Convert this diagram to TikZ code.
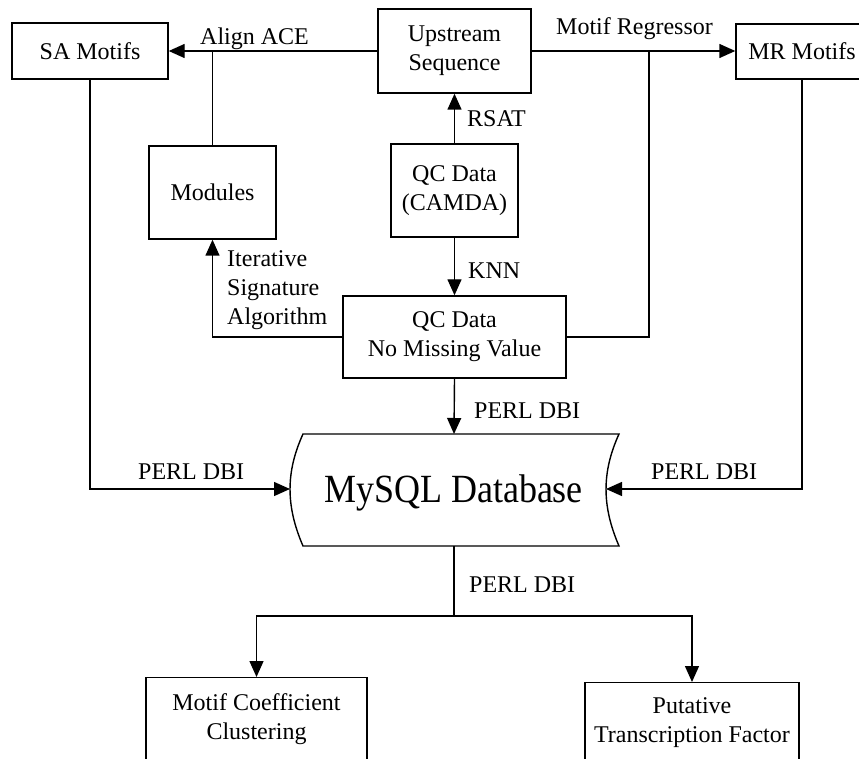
\documentclass[tikz,border=0pt]{standalone}
\usepackage{fontspec}
\setmainfont{Liberation Serif}
\usetikzlibrary{arrows.meta}
\begin{document}
\begin{tikzpicture}[x=1pt,y=-1pt,
  every node/.style={font=\fontsize{24}{29}\selectfont, inner sep=0pt},
  box/.style={draw, line width=1.4pt, align=center},
  lbl/.style={anchor=base west},
  conn/.style={line width=1.4pt},
  arr/.style={conn, -{Triangle[length=16pt,width=14pt]}}]
\useasboundingbox (0,0) rectangle (859,759);
\clip (0,0) rectangle (859,759);
% boxes
\node[box, minimum width=156pt, minimum height=56pt] (sa) at (90,51) {SA Motifs};
\node[box, minimum width=153pt, minimum height=84pt] (up) at (454.5,51) {Upstream\\Sequence};
\node[box, minimum width=132pt, minimum height=55pt] (mr) at (802,51.5) {MR Motifs};
\node[box, minimum width=127pt, minimum height=93pt] (mod) at (212.5,192.5) {Modules};
\node[box, minimum width=127pt, minimum height=93pt] (qc) at (454.5,190.5) {QC Data\\(CAMDA)};
\node[box, minimum width=223pt, minimum height=82pt] (nmv) at (454.5,337) {QC Data\\No Missing Value};
\node[box, minimum width=221pt, minimum height=130pt, anchor=north] (mcc) at (256.5,677) {};
\node[align=center, anchor=north] (mcct) at (256.5,693.6) {Motif Coefficient\\Clustering};
\node[box, minimum width=214pt, minimum height=130pt, anchor=north] (pt) at (692,682) {};
\node[align=center, anchor=north] (ptt) at (692,697.1) {Putative\\Transcription Factor};
% database
\draw[conn] (303,434) -- (619,434) .. controls (601.7,472) and (601.7,506) .. (619,546) -- (303,546) .. controls (285.7,506) and (285.7,472) .. (303,434) -- cycle;
\node[anchor=base] (db) at (453.5,502) {\fontsize{40}{48}\selectfont\scalebox{0.9}[1]{MySQL Database}};
\coordinate (dbT) at (454,434);
\coordinate (dbB) at (454,546);
\coordinate (dbL) at (290,489);
\coordinate (dbR) at (606,489);
\coordinate (jr) at (649,51);
\coordinate (split) at (454,616);
% connectors
\draw[arr] (up.west) -- (sa.east);
\draw[conn] (mod.north) -- (mod.north |- sa.east);
\draw[arr] (up.east) -- (up.east -| mr.west);
\draw[conn] (nmv.east) -| (jr);
\draw[arr] (qc.north) -- (up.south);
\draw[arr] (qc.south) -- (nmv.north);
\draw[arr] (nmv.west) -| (mod.south);
\draw[arr] (nmv.south) -- (dbT);
\draw[arr] (sa.south) |- (dbL);
\draw[arr] (mr.south) |- (dbR);
\draw[conn] (dbB) -- (split);
\draw[arr] (split) -| (mcc.north);
\draw[arr] (split) -| (pt.north);
% labels
\node[lbl] (l1) at (200,45) {Align ACE};
\node[lbl] (l2) at (556,35) {Motif Regressor};
\node[lbl] (l3) at (467,127) {RSAT};
\node[lbl] (l4) at (468,279) {KNN};
\node[align=left, anchor=north west] (l5) at (227,250.6) {Iterative\\Signature\\Algorithm};
\node[lbl] (l6) at (474,418) {PERL DBI};
\node[lbl] (l7) at (138,479) {PERL DBI};
\node[lbl] (l8) at (651,479) {PERL DBI};
\node[lbl] (l9) at (469,592) {PERL DBI};
\end{tikzpicture}
\end{document}
